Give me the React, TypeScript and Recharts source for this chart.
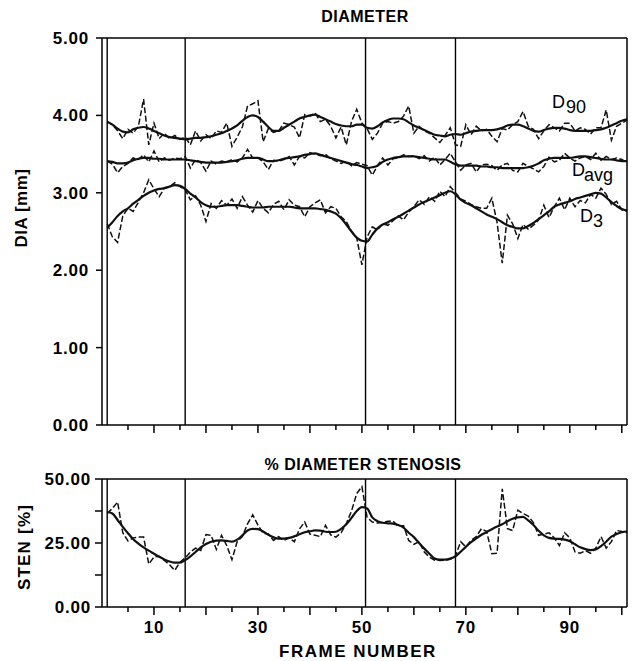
import { LineChart, Line, XAxis, YAxis, ReferenceLine } from 'recharts';

// frame numbers 1..101 (x categories)
const FRAMES = Array.from({ length: 101 }, (_, i) => i + 1);

// diameter curves [mm], raw (dashed) and smoothed (solid)
const D90_RAW = [
  3.92, 3.88, 3.8, 3.7, 3.82, 3.77, 3.86, 4.21, 3.62, 3.9,
  3.7, 3.77, 3.7, 3.74, 3.69, 3.72, 3.62, 3.8, 3.67, 3.75,
  3.7, 3.8, 3.78, 3.9, 3.6, 3.72, 3.85, 4.12, 4.15, 4.19,
  3.66, 3.83, 3.78, 3.8, 3.9, 3.88, 3.85, 3.71, 4.01, 3.99,
  4.03, 3.92, 3.95, 3.86, 3.71, 3.85, 3.62, 3.92, 4.08, 3.9,
  3.83, 3.69, 3.77, 3.9, 3.92, 3.9, 3.92, 3.99, 4.12, 3.77,
  3.86, 3.8, 3.77, 3.71, 3.65, 3.74, 3.84, 3.62, 3.6, 3.88,
  3.75, 3.86, 3.8, 3.82, 3.73, 3.66, 3.83, 3.81, 3.88, 3.92,
  4.05, 3.86, 3.82, 3.7, 3.8, 3.88, 3.84, 3.8, 3.9, 3.9,
  3.8, 3.84, 3.82, 3.76, 3.84, 3.84, 4.07, 3.68, 3.86, 3.9,
  3.94,
];
const D90_SMOOTH = [
  3.92, 3.88, 3.83, 3.79, 3.78, 3.82, 3.84, 3.85, 3.83, 3.8,
  3.77, 3.74, 3.72, 3.71, 3.7, 3.69, 3.7, 3.71, 3.71, 3.72,
  3.73, 3.75, 3.77, 3.8, 3.83, 3.87, 3.93, 3.98, 4.0, 3.98,
  3.92, 3.85, 3.8, 3.8, 3.84, 3.88, 3.92, 3.96, 3.98, 4.0,
  4.01, 3.98, 3.95, 3.92, 3.89, 3.87, 3.86, 3.86, 3.88, 3.88,
  3.84, 3.83, 3.86, 3.91, 3.94, 3.96, 3.96, 3.95, 3.91, 3.87,
  3.84, 3.81, 3.78, 3.75, 3.74, 3.73, 3.75, 3.76, 3.75, 3.77,
  3.79, 3.8, 3.81, 3.81, 3.81, 3.82, 3.84, 3.87, 3.88, 3.88,
  3.86, 3.83, 3.8, 3.79, 3.81, 3.83, 3.84, 3.84, 3.83, 3.81,
  3.8, 3.8, 3.8, 3.8, 3.81, 3.82, 3.84, 3.87, 3.9, 3.93,
  3.95,
];
const DAVG_RAW = [
  3.41, 3.37, 3.26, 3.34, 3.38, 3.45, 3.43, 3.49, 3.4, 3.54,
  3.4, 3.45, 3.42, 3.45, 3.44, 3.47, 3.32, 3.43, 3.39, 3.28,
  3.41, 3.37, 3.41, 3.4, 3.43, 3.4, 3.45, 3.56, 3.45, 3.45,
  3.4, 3.3, 3.42, 3.41, 3.43, 3.47, 3.36, 3.47, 3.45, 3.52,
  3.5, 3.48, 3.5, 3.44, 3.41, 3.38, 3.41, 3.35, 3.39, 3.37,
  3.35, 3.23, 3.35, 3.45, 3.36, 3.44, 3.45, 3.49, 3.47, 3.48,
  3.44, 3.48, 3.41, 3.46, 3.36, 3.43, 3.51, 3.4, 3.29, 3.36,
  3.38, 3.27, 3.36, 3.37, 3.35, 3.29, 3.36, 3.38, 3.29, 3.27,
  3.38, 3.34, 3.31, 3.27, 3.34, 3.46, 3.4, 3.42, 3.51, 3.45,
  3.41, 3.45, 3.47, 3.43, 3.51, 3.42, 3.47, 3.43, 3.45, 3.43,
  3.39,
];
const DAVG_SMOOTH = [
  3.41, 3.4, 3.38, 3.38, 3.39, 3.42, 3.44, 3.45, 3.45, 3.44,
  3.44, 3.43, 3.43, 3.43, 3.43, 3.43, 3.42, 3.41, 3.4, 3.39,
  3.39, 3.39, 3.39, 3.4, 3.41, 3.42, 3.44, 3.45, 3.45, 3.45,
  3.43, 3.41, 3.41, 3.42, 3.44, 3.45, 3.46, 3.47, 3.49, 3.5,
  3.51, 3.49, 3.47, 3.45, 3.43, 3.41, 3.39, 3.37, 3.36, 3.34,
  3.32, 3.33, 3.35, 3.4, 3.43, 3.45, 3.46, 3.47, 3.47, 3.47,
  3.46, 3.45, 3.44, 3.43, 3.43, 3.43, 3.4, 3.37, 3.35, 3.35,
  3.35, 3.35, 3.34, 3.34, 3.33, 3.33, 3.32, 3.32, 3.32, 3.32,
  3.32, 3.33, 3.35, 3.38, 3.42, 3.44, 3.45, 3.45, 3.45, 3.45,
  3.46, 3.47, 3.47, 3.46, 3.45, 3.44, 3.43, 3.43, 3.42, 3.41,
  3.41,
];
const D3_RAW = [
  2.6, 2.43, 2.36, 2.7, 2.8, 2.76, 2.88, 3.0, 3.17, 3.05,
  2.95, 3.06, 3.08, 3.13, 3.08, 3.04, 2.91, 2.96, 2.84, 2.63,
  2.86, 2.8, 2.9, 2.84, 2.92, 2.8, 2.95, 2.84, 2.75, 2.9,
  2.8, 2.74, 2.85, 2.89, 2.78, 2.91, 2.84, 2.82, 2.69, 2.82,
  2.87, 2.91, 2.74, 2.82, 2.8, 2.69, 2.63, 2.5, 2.42, 2.07,
  2.43, 2.56, 2.52, 2.6, 2.58, 2.64, 2.7, 2.65, 2.75, 2.82,
  2.91, 2.85, 2.95, 2.89, 3.02, 2.95, 3.08, 3.0, 2.92, 2.89,
  2.85, 2.82, 2.8, 2.8, 2.93, 2.62, 2.09, 2.71, 2.6, 2.41,
  2.59, 2.53, 2.58, 2.65, 2.84, 2.68, 2.82, 2.93, 2.78, 2.93,
  2.82, 2.9, 2.87, 2.98, 2.93, 3.06, 2.98, 2.85, 2.89, 2.78,
  2.76,
];
const D3_SMOOTH = [
  2.55, 2.62, 2.7, 2.76, 2.8, 2.86, 2.91, 2.96, 3.0, 3.03,
  3.05, 3.06, 3.08, 3.1, 3.09, 3.05, 2.99, 2.94, 2.88, 2.84,
  2.82, 2.82, 2.83, 2.84, 2.84, 2.84, 2.83, 2.82, 2.81, 2.81,
  2.81, 2.82, 2.82, 2.82, 2.82, 2.82, 2.81, 2.8, 2.8, 2.8,
  2.8, 2.79, 2.78, 2.76, 2.73, 2.67, 2.59, 2.5, 2.42, 2.38,
  2.37, 2.46, 2.54, 2.59, 2.62, 2.66, 2.69, 2.73, 2.77, 2.81,
  2.85, 2.88, 2.91, 2.94, 2.97, 3.0, 3.02, 2.98, 2.91, 2.87,
  2.84, 2.8, 2.76, 2.72, 2.69, 2.66, 2.62, 2.58, 2.56, 2.54,
  2.54, 2.57, 2.61, 2.66, 2.71, 2.76, 2.82, 2.85, 2.87, 2.89,
  2.92, 2.94, 2.96, 2.98, 3.0, 2.99, 2.94, 2.88, 2.83, 2.79,
  2.77,
];

// % diameter stenosis
const STEN_RAW = [
  36.5, 38.5, 41.0, 29.0, 25.8, 27.0, 27.3, 27.3, 16.8, 19.5,
  19.8, 18.2, 16.5, 14.3, 17.5, 19.2, 21.5, 23.0, 22.1, 28.3,
  28.0, 22.5, 28.0, 24.0, 18.5, 25.5, 27.5, 32.5, 36.0, 32.0,
  28.8, 28.5, 26.0, 27.5, 26.0, 27.0, 25.5, 30.5, 33.2, 28.5,
  28.0, 27.5, 31.9, 28.2, 27.3, 29.0, 32.6, 37.5, 44.3, 47.0,
  35.0, 33.2, 32.8, 33.0, 33.5, 33.5, 31.5, 31.8, 26.0, 24.5,
  25.5, 21.5, 19.5, 18.3, 18.2, 18.3, 18.6, 20.0, 25.5, 23.5,
  26.0, 27.5, 30.6, 29.5, 20.8, 21.0, 46.2, 30.6, 29.9, 37.8,
  36.5, 35.5, 33.0, 28.0, 28.5, 29.0, 27.0, 24.0, 29.0, 27.0,
  21.5, 21.0, 22.0, 21.0, 23.0, 27.5, 23.0, 25.5, 29.9, 29.5,
  29.0,
];
const STEN_SMOOTH = [
  37.1, 36.5, 34.0, 31.3, 28.8, 26.5, 24.8, 23.3, 22.0, 20.8,
  19.6, 18.6, 17.8, 17.3, 17.3, 18.3, 19.8, 21.5, 23.3, 24.6,
  25.5, 25.9, 26.0, 25.8, 25.5, 26.3, 28.0, 29.9, 30.5, 30.4,
  29.5, 28.2, 27.2, 26.7, 26.7, 27.0, 27.6, 28.4, 29.2, 29.6,
  29.9, 29.8, 29.4, 29.3, 29.4, 30.5, 32.3, 34.8, 37.5, 39.0,
  38.5, 35.0, 33.5, 32.9, 32.7, 32.6, 32.0, 31.0, 29.0, 27.3,
  25.0, 22.8, 20.8, 18.9, 18.5, 18.5, 18.9, 19.8, 21.6, 23.5,
  25.3, 26.8, 28.2, 29.3, 30.4, 31.4, 32.3, 33.5, 34.5, 35.0,
  35.2, 33.8, 32.0, 29.8, 28.0, 27.0, 26.7, 26.6, 26.3, 25.7,
  24.5, 23.3, 22.6, 22.2, 22.5, 23.8, 25.5, 27.5, 28.5, 29.2,
  29.5,
];

// frames marked with vertical lines
const MARKER_FRAMES = [1, 16, 50.7, 68];

const FRAME_TICKS = [5, 10, 15, 20, 25, 30, 35, 40, 45, 50, 55, 60, 65, 70, 75, 80, 85, 90, 95, 100];
const FRAME_LABELS = [10, 30, 50, 70, 90];
const DIA_TICKS = [0, 1, 2, 3, 4, 5];
const STEN_TICKS = [0, 12.5, 25, 37.5, 50];
const STEN_LABELS = [0, 25, 50];

const rows = FRAMES.map((frame, i) => ({
  frame,
  d90: D90_RAW[i],
  d90s: D90_SMOOTH[i],
  davg: DAVG_RAW[i],
  davgs: DAVG_SMOOTH[i],
  d3: D3_RAW[i],
  d3s: D3_SMOOTH[i],
  sten: STEN_RAW[i],
  stens: STEN_SMOOTH[i],
}));

const FONT = '"Liberation Sans", Arial, Helvetica, sans-serif';
const INK = '#111';
const tickStyle = { fontSize: 17, fontWeight: 700, fill: '#000', fontFamily: FONT, letterSpacing: 0.8 };

function FrameTick(props: any) {
  const { x, y, payload, showLabel } = props;
  const v = payload.value;
  const len = v % 10 === 0 ? 8 : 5;
  return (
    <g>
      <line x1={x} y1={y} x2={x} y2={y + len} stroke="#000" strokeWidth={1.5} />
      {showLabel && FRAME_LABELS.includes(v) && (
        <text x={x} y={y + 26} textAnchor="middle" style={tickStyle}>
          {v}
        </text>
      )}
    </g>
  );
}

function Markers({ yId }: { yId: string }) {
  return (
    <>
      {MARKER_FRAMES.map((f) => (
        <ReferenceLine key={f} x={f} yAxisId={yId} stroke="#000" strokeWidth={1.4} />
      ))}
    </>
  );
}

function pair(key: string, yId: string) {
  return [
    <Line key={key} yAxisId={yId} dataKey={key} type="linear" stroke={INK} strokeWidth={1.5}
      strokeDasharray="6 2.5" dot={false} isAnimationActive={false} />,
    <Line key={key + 's'} yAxisId={yId} dataKey={key + 's'} type="monotone" stroke={INK}
      strokeWidth={2.2} dot={false} isAnimationActive={false} />,
  ];
}

export default function App() {
  const axisLine = { stroke: '#000', strokeWidth: 1.5 };
  const tickLine = { stroke: '#000', strokeWidth: 1.5 };
  return (
    <div style={{ position: 'absolute', left: 0, top: 0, width: 640, height: 661, background: '#fff' }}>
      <div style={{ position: 'absolute', left: 0, top: 0 }}>
        <LineChart width={640} height={440} data={rows} margin={{ top: 38, right: 0, bottom: 0, left: 0 }}>
          <XAxis dataKey="frame" type="number" domain={[0, 101]} ticks={FRAME_TICKS} height={15}
            axisLine={axisLine} tickLine={false} tickSize={0} tickMargin={0}
            tick={(p: any) => <FrameTick {...p} showLabel={false} />} interval={0} />
          <YAxis yAxisId="l" type="number" domain={[0, 5]} ticks={DIA_TICKS} width={102}
            axisLine={axisLine} tickLine={tickLine} tickSize={6} tickMargin={7}
            tick={tickStyle} tickFormatter={(v: number) => v.toFixed(2)} interval={0} />
          <YAxis yAxisId="r" orientation="right" type="number" domain={[0, 5]} ticks={DIA_TICKS} width={13}
            axisLine={axisLine} tickLine={tickLine} tickSize={6} tickFormatter={() => ''} interval={0} />
          <ReferenceLine y={5} yAxisId="l" stroke="#000" strokeWidth={1.5} />
          {Markers({ yId: 'l' })}
          {pair('d90', 'l')}
          {pair('davg', 'l')}
          {pair('d3', 'l')}
        </LineChart>
      </div>
      <div style={{ position: 'absolute', left: 0, top: 440 }}>
        <LineChart width={640} height={221} data={rows} margin={{ top: 39, right: 0, bottom: 0, left: 0 }}>
          <XAxis dataKey="frame" type="number" domain={[0, 101]} ticks={FRAME_TICKS} height={54}
            axisLine={axisLine} tickLine={false} tickSize={0} tickMargin={0}
            tick={(p: any) => <FrameTick {...p} showLabel />} interval={0} />
          <YAxis yAxisId="l" type="number" domain={[0, 50]} ticks={STEN_TICKS} width={102}
            axisLine={axisLine} tickLine={tickLine} tickSize={7} tickMargin={4}
            tick={tickStyle} interval={0}
            tickFormatter={(v: number) => (STEN_LABELS.includes(v) ? v.toFixed(2) : '')} />
          <YAxis yAxisId="r" orientation="right" type="number" domain={[0, 50]} ticks={STEN_TICKS} width={13}
            axisLine={axisLine} tickLine={tickLine} tickSize={6} tickFormatter={() => ''} interval={0} />
          <ReferenceLine y={50} yAxisId="l" stroke="#000" strokeWidth={1.5} />
          {Markers({ yId: 'l' })}
          {pair('sten', 'l')}
        </LineChart>
      </div>
      <svg width={640} height={661} style={{ position: 'absolute', left: 0, top: 0, pointerEvents: 'none' }}
        fontFamily={FONT} fontWeight={700} fill="#000">
        <text x={365} y={22} textAnchor="middle" fontSize={16} letterSpacing={0.5}>DIAMETER</text>
        <text x={363} y={470} textAnchor="middle" fontSize={16} letterSpacing={0.5}>% DIAMETER STENOSIS</text>
        <text x={358} y={657} textAnchor="middle" fontSize={17} letterSpacing={1.5}>FRAME NUMBER</text>
        <text x={27} y={208} textAnchor="middle" fontSize={17} letterSpacing={0.5}
          transform="rotate(-90 27 208)">DIA [mm]</text>
        <text x={30} y={547} textAnchor="middle" fontSize={17} letterSpacing={1.2}
          transform="rotate(-90 30 547)">STEN [%]</text>
        <text x={552} y={108} fontSize={18} fontWeight={400}>D</text>
        <text x={566} y={113} fontSize={18} fontWeight={400}>90</text>
        <text x={572} y={176} fontSize={18} fontWeight={400}>D</text>
        <text x={584} y={181} fontSize={18} fontWeight={400}>avg</text>
        <text x={580} y={222} fontSize={18} fontWeight={400}>D</text>
        <text x={593} y={227} fontSize={18} fontWeight={400}>3</text>
      </svg>
    </div>
  );
}
